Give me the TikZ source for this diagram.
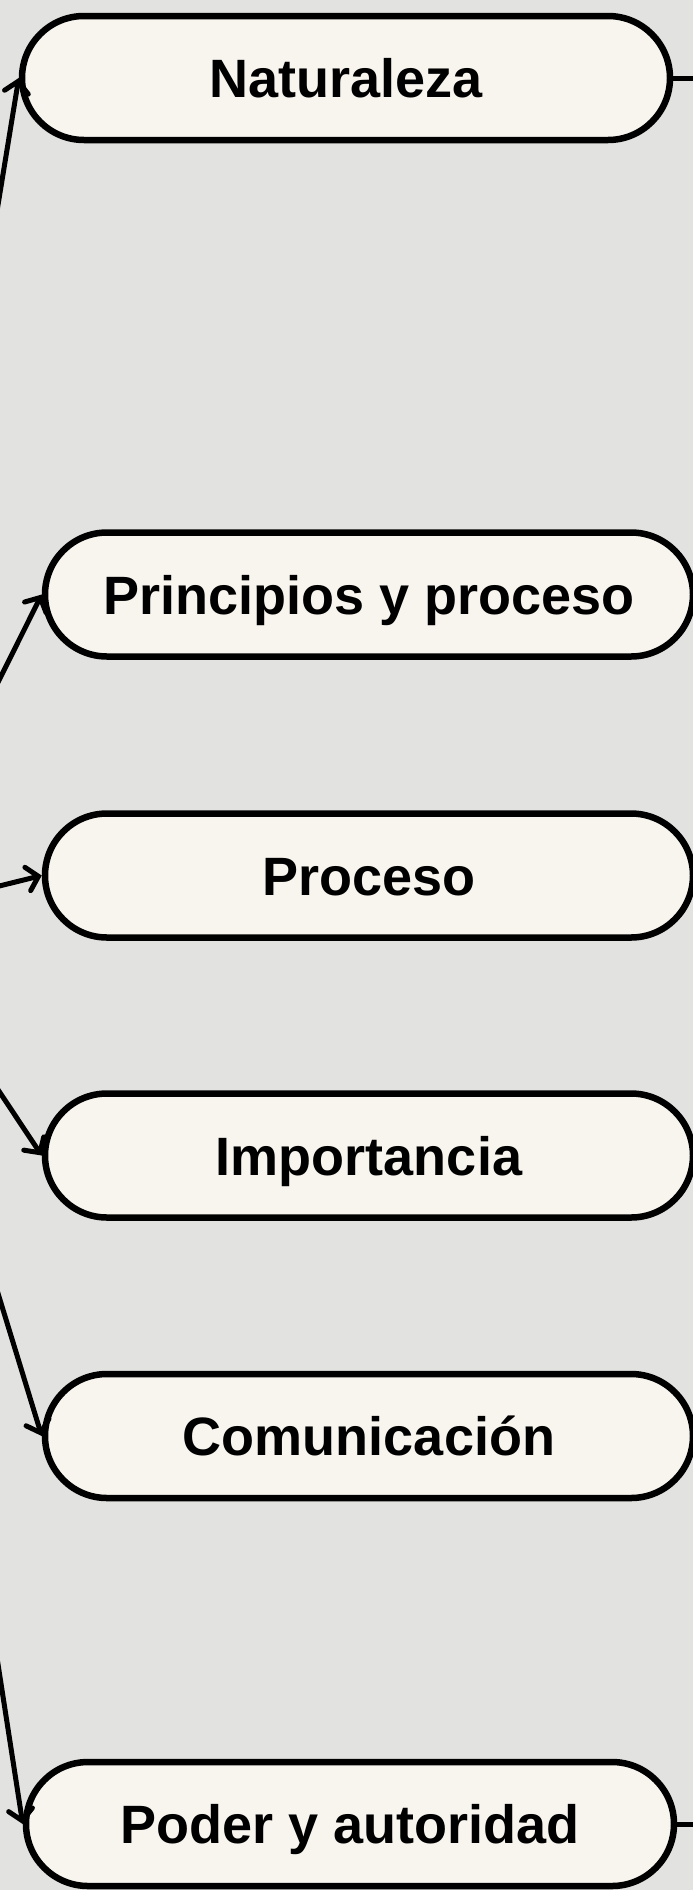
\documentclass[tikz,border=0pt]{standalone}
\usepackage{fontspec}
\setmainfont{Liberation Sans}
\usetikzlibrary{arrows.meta,positioning}
\definecolor{canvas}{HTML}{E2E2E0}
\definecolor{pill}{HTML}{F8F4EE}
\tikzstyle{topic} = [rectangle, draw, line width=6.5pt, fill=pill,
    rounded corners=62pt, minimum width=648pt, minimum height=124pt, inner sep=0pt,
    text height=39pt, text depth=0pt, font=\fontsize{54}{60}\selectfont\bfseries]
\tikzstyle{line} = [draw, line width=5pt, line cap=round, -{Straight Barb[length=11pt,width=24pt,line cap=round]}]
\tikzstyle{link} = [draw, line width=5pt]

\begin{document}
\begin{tikzpicture}[x=1pt,y=-1pt]
    \fill [canvas] (0,0) rectangle (693,1890);
    \useasboundingbox (0,0) rectangle (693,1890);
    \clip (0,0) rectangle (693,1890);
    % Place nodes
    \coordinate (hub) at (-118,915);
    \node [topic] (naturaleza)  at (346,78)     {Naturaleza};
    \node [topic] (principios)  at (369,594.5)  {Principios y proceso};
    \node [topic] (proceso)     at (369,875.5)  {Proceso};
    \node [topic] (importancia) at (369,1155.5) {Importancia};
    \node [topic] (comunicacion) at (369,1436)  {Comunicación};
    \node [topic] (poder)       at (350,1824)   {Poder y autoridad};
    \coordinate [right=60pt of naturaleza.east] (naturalezaOut);
    \coordinate [right=60pt of poder.east] (poderOut);

    \path [line] (hub) -- (naturaleza.west);
    \path [line] (hub) -- (principios.west);
    \path [line] (hub) -- (proceso.west);
    \path [line] (hub) -- (importancia.west);
    \path [line] (hub) -- (comunicacion.west);
    \path [line] (hub) -- (poder.west);

    \path [link] (naturaleza.east) -- (naturalezaOut);
    \path [link] (poder.east) -- (poderOut);
\end{tikzpicture}
\end{document}
